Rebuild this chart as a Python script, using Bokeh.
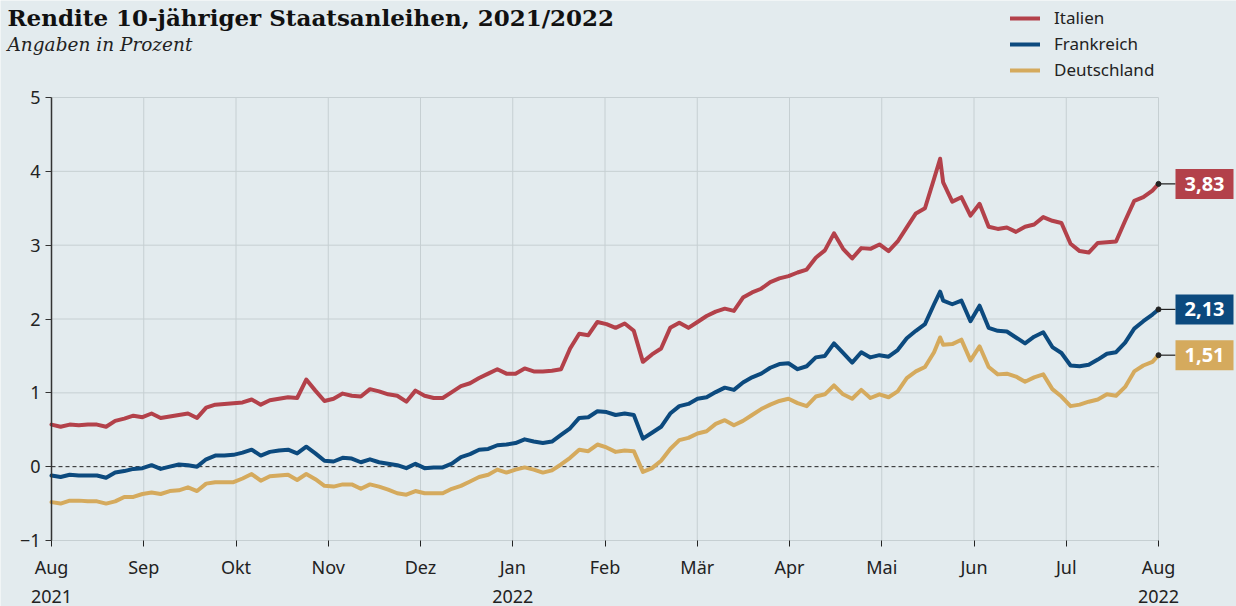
import pandas as pd
from bokeh.plotting import figure
from bokeh.models import Range1d, FixedTicker, LinearAxis, Legend, LegendItem
from bokeh.core.properties import value
from bokeh.embed import file_html
from bokeh.resources import INLINE

# ---------------- data ----------------
dates = [
    "2021-08-01", "2021-08-04", "2021-08-07", "2021-08-10", "2021-08-13", "2021-08-16", "2021-08-19", "2021-08-22", "2021-08-25", "2021-08-28", "2021-08-31",
    "2021-09-03", "2021-09-06", "2021-09-09", "2021-09-12", "2021-09-15", "2021-09-18", "2021-09-21", "2021-09-24", "2021-09-27", "2021-09-30",
    "2021-10-03", "2021-10-06", "2021-10-09", "2021-10-12", "2021-10-15", "2021-10-18", "2021-10-21", "2021-10-24", "2021-10-27", "2021-10-30",
    "2021-11-02", "2021-11-05", "2021-11-08", "2021-11-11", "2021-11-14", "2021-11-17", "2021-11-20", "2021-11-23", "2021-11-26", "2021-11-29",
    "2021-12-02", "2021-12-05", "2021-12-08", "2021-12-11", "2021-12-14", "2021-12-17", "2021-12-20", "2021-12-23", "2021-12-26", "2021-12-29",
    "2022-01-01", "2022-01-04", "2022-01-07", "2022-01-10", "2022-01-13", "2022-01-16", "2022-01-19", "2022-01-22", "2022-01-25", "2022-01-28", "2022-01-31",
    "2022-02-03", "2022-02-06", "2022-02-09", "2022-02-12", "2022-02-15", "2022-02-18", "2022-02-21", "2022-02-24", "2022-02-27",
    "2022-03-02", "2022-03-05", "2022-03-08", "2022-03-11", "2022-03-14", "2022-03-17", "2022-03-20", "2022-03-23", "2022-03-26", "2022-03-29",
    "2022-04-01", "2022-04-04", "2022-04-07", "2022-04-10", "2022-04-13", "2022-04-16", "2022-04-19", "2022-04-22", "2022-04-25", "2022-04-28",
    "2022-05-01", "2022-05-04", "2022-05-07", "2022-05-10", "2022-05-13", "2022-05-16", "2022-05-19", "2022-05-21", "2022-05-22", "2022-05-25", "2022-05-28", "2022-05-31",
    "2022-06-03", "2022-06-06", "2022-06-09", "2022-06-12", "2022-06-15", "2022-06-18", "2022-06-21", "2022-06-24", "2022-06-27", "2022-06-30",
    "2022-07-03", "2022-07-06", "2022-07-09", "2022-07-12", "2022-07-15", "2022-07-18", "2022-07-21", "2022-07-24", "2022-07-27", "2022-07-30", "2022-08-01",
]

italien = [
    0.57, 0.54, 0.57, 0.56, 0.57, 0.57, 0.54, 0.62, 0.65, 0.69, 0.67,
    0.72, 0.66, 0.68, 0.70, 0.72, 0.66, 0.80, 0.84, 0.85, 0.86,
    0.87, 0.91, 0.84, 0.90, 0.92, 0.94, 0.93, 1.18, 1.03, 0.89,
    0.92, 0.99, 0.96, 0.95, 1.05, 1.02, 0.98, 0.96, 0.88, 1.03,
    0.96, 0.93, 0.93, 1.01, 1.09, 1.13, 1.20, 1.26, 1.32, 1.26,
    1.26, 1.33, 1.29, 1.29, 1.30, 1.32, 1.60, 1.80, 1.78, 1.96, 1.93,
    1.88, 1.94, 1.84, 1.42, 1.52, 1.60, 1.88, 1.95, 1.88,
    1.96, 2.04, 2.10, 2.14, 2.11, 2.29, 2.36, 2.41, 2.50, 2.55,
    2.58, 2.63, 2.67, 2.83, 2.93, 3.16, 2.95, 2.82, 2.96, 2.95,
    3.01, 2.92, 3.05, 3.24, 3.43, 3.50, 3.90, 4.17, 3.85, 3.59, 3.65, 3.40,
    3.56, 3.25, 3.22, 3.24, 3.18, 3.25, 3.28, 3.38, 3.33, 3.30,
    3.02, 2.92, 2.90, 3.03, 3.04, 3.05, 3.33, 3.60, 3.65, 3.74,
    3.83,
]

frankreich = [
    -0.12, -0.14, -0.11, -0.12, -0.12, -0.12, -0.15, -0.08, -0.06, -0.03, -0.02,
    0.02, -0.03, 0.00, 0.03, 0.02, 0.00, 0.10, 0.15, 0.15, 0.16,
    0.19, 0.23, 0.15, 0.20, 0.22, 0.23, 0.18, 0.27, 0.18, 0.08,
    0.07, 0.12, 0.11, 0.06, 0.10, 0.06, 0.04, 0.02, -0.02, 0.04,
    -0.02, -0.01, -0.01, 0.04, 0.13, 0.17, 0.23, 0.24, 0.29, 0.30,
    0.32, 0.37, 0.34, 0.32, 0.34, 0.43, 0.52, 0.66, 0.67, 0.75, 0.74,
    0.70, 0.72, 0.70, 0.38, 0.46, 0.54, 0.72, 0.82, 0.85,
    0.92, 0.94, 1.01, 1.07, 1.04, 1.14, 1.21, 1.26, 1.34, 1.39,
    1.40, 1.32, 1.36, 1.48, 1.50, 1.67, 1.54, 1.41, 1.55, 1.48,
    1.51, 1.49, 1.58, 1.74, 1.84, 1.93, 2.20, 2.37, 2.25, 2.20, 2.25, 1.97,
    2.18, 1.88, 1.84, 1.83, 1.75, 1.67, 1.76, 1.82, 1.62, 1.54,
    1.37, 1.36, 1.38, 1.45, 1.53, 1.55, 1.68, 1.87, 1.97, 2.06,
    2.13,
]

deutschland = [
    -0.48, -0.50, -0.46, -0.46, -0.47, -0.47, -0.50, -0.47, -0.41, -0.41, -0.37,
    -0.35, -0.37, -0.33, -0.32, -0.28, -0.33, -0.23, -0.21, -0.21, -0.21,
    -0.16, -0.10, -0.19, -0.13, -0.12, -0.11, -0.18, -0.10, -0.17, -0.26,
    -0.27, -0.24, -0.24, -0.30, -0.24, -0.27, -0.31, -0.36, -0.38, -0.33,
    -0.36, -0.36, -0.36, -0.30, -0.26, -0.20, -0.14, -0.11, -0.04, -0.08,
    -0.04, -0.01, -0.04, -0.08, -0.05, 0.03, 0.12, 0.23, 0.21, 0.30, 0.26,
    0.20, 0.22, 0.21, -0.07, -0.02, 0.08, 0.24, 0.36, 0.39,
    0.45, 0.48, 0.58, 0.63, 0.56, 0.62, 0.70, 0.78, 0.84, 0.89,
    0.92, 0.86, 0.82, 0.95, 0.98, 1.10, 0.98, 0.92, 1.04, 0.93,
    0.98, 0.94, 1.02, 1.20, 1.29, 1.35, 1.55, 1.75, 1.65, 1.66, 1.72, 1.44,
    1.63, 1.35, 1.25, 1.26, 1.22, 1.15, 1.21, 1.25, 1.05, 0.95,
    0.82, 0.84, 0.88, 0.91, 0.98, 0.96, 1.08, 1.29, 1.37, 1.42,
    1.51,
]

series_names = ["Italien", "Frankreich", "Deutschland"]
month_labels = ["Aug", "Sep", "Okt", "Nov", "Dez", "Jan", "Feb", "Mär", "Apr", "Mai", "Jun", "Jul", "Aug"]
year_tick_index = [0, 5, 12]
year_labels = ["2021", "2022", "2022"]
y_ticks = [-1, 0, 1, 2, 3, 4, 5]

title_text = "Rendite 10-jähriger Staatsanleihen, 2021/2022"
subtitle_text = "Angaben in Prozent"

# ---------------- styling / layout ----------------
RED, BLUE, GOLD = "#b3414a", "#0c4a7e", "#d5aa5d"
colors = [RED, BLUE, GOLD]
BG = "#e3ebee"
GRID = "#c6cfd2"
INK = "#222222"
SANS = "Noto Sans"
SERIF = "DejaVu Serif"
LW = 4

W, H = 1236, 606
AXIS_X, PLOT_TOP, PLOT_BOTTOM = 51, 97, 540   # pixel bounds of the value area
DATA_RIGHT = 1158

origin = pd.Timestamp(dates[0])
days = [float((pd.Timestamp(d) - origin).days) for d in dates]
first_day, last_day = days[0], days[-1]
n_m = len(month_labels) - 1
month_pos = [first_day + i * (last_day - first_day) / n_m for i in range(n_m + 1)]
year_pos = [month_pos[i] for i in year_tick_index]

y0, y1 = y_ticks[0], y_ticks[-1]
px_per_day = (DATA_RIGHT - AXIS_X) / (last_day - first_day)
px_per_unit = (PLOT_BOTTOM - PLOT_TOP) / (y1 - y0)

def xpx(xp):
    return first_day + (xp - AXIS_X) / px_per_day

def ypx(yp):
    return y1 + (PLOT_TOP - yp) / px_per_unit

p = figure(width=W, height=H, x_range=Range1d(xpx(0), xpx(W)), y_range=Range1d(ypx(H), ypx(0)),
           output_backend="svg", toolbar_location=None, min_border=0)
p.background_fill_color = BG
p.border_fill_color = BG
p.outline_line_color = None
p.xgrid.visible = False
p.ygrid.visible = False

# grid (limited to the value area)
grid_vals = [v for v in y_ticks if v != 0]
p.segment(x0=[first_day] * len(grid_vals), y0=grid_vals, x1=[last_day] * len(grid_vals), y1=grid_vals,
          line_color=GRID, line_width=1)
p.segment(x0=month_pos, y0=[y0] * len(month_pos), x1=month_pos, y1=[y1] * len(month_pos),
          line_color=GRID, line_width=1)
p.segment(x0=[first_day], y0=[0], x1=[last_day], y1=[0], line_color=INK, line_width=1, line_dash="4 3")

# x axes, pinned at the bottom of the value area
xa = p.xaxis[0]
xa.fixed_location = y0
xa.ticker = FixedTicker(ticks=month_pos)
xa.major_label_overrides = {d: lab for d, lab in zip(month_pos, month_labels)}
xa.axis_line_color = None
xa.major_tick_out = 6
xa.major_tick_in = 0
xa.major_tick_line_color = INK
xa.minor_tick_line_color = None
xa.major_label_text_font = SANS
xa.major_label_text_font_size = "18px"
xa.major_label_text_color = INK
xa.major_label_standoff = 8

year_axis = LinearAxis(ticker=FixedTicker(ticks=year_pos), fixed_location=y0,
                       major_label_overrides={d: lab for d, lab in zip(year_pos, year_labels)},
                       axis_line_color=None, major_tick_line_color=None, minor_tick_line_color=None,
                       major_tick_out=0, major_tick_in=0,
                       major_label_text_font=SANS, major_label_text_font_size="18px",
                       major_label_text_color=INK, major_label_standoff=49)
p.add_layout(year_axis, "below")

# y axis, pinned at the first date
yax = p.yaxis[0]
yax.fixed_location = first_day
yax.bounds = (y0, y1)
yax.ticker = FixedTicker(ticks=y_ticks)
yax.axis_line_color = "#333333"
yax.axis_line_width = 1.5
yax.major_tick_out = 6
yax.major_tick_in = 0
yax.major_tick_line_color = "#333333"
yax.minor_tick_line_color = None
yax.major_label_text_font = SANS
yax.major_label_text_font_size = "18px"
yax.major_label_text_color = INK
yax.major_label_standoff = 5

# lines
renderers = []
for vals, col in zip([italien, frankreich, deutschland], colors):
    renderers.append(p.line(days, vals, line_color=col, line_width=LW, line_join="round", line_cap="round"))

# end markers + value boxes
ends = [italien[-1], frankreich[-1], deutschland[-1]]
conn_end = last_day + 17 / px_per_day
box_x = last_day + 46 / px_per_day
p.segment(x0=[last_day] * 3, y0=ends, x1=[conn_end] * 3, y1=ends, line_color=INK, line_width=1.2)
p.scatter([last_day] * 3, ends, size=5, color=INK)
p.rect(x=[box_x] * 3, y=ends, width=58, height=30, width_units="screen", height_units="screen",
       fill_color=colors, line_color=None)
end_texts = [f"{v:.2f}".replace(".", ",") for v in ends]
p.text(x=[box_x] * 3, y=ends, text=end_texts, text_align="center", text_baseline="middle",
       text_color="white", text_font=value(SANS), text_font_style="bold", text_font_size="20px")

# title / subtitle
p.text(x=[xpx(7)], y=[ypx(17)], text=[title_text], text_font=value(SERIF), text_font_style="bold",
       text_font_size="23px", text_color="#111111", text_baseline="alphabetic", text_align="left")
p.text(x=[xpx(7)], y=[ypx(44)], text=[subtitle_text], text_font=value(SERIF), text_font_style="italic",
       text_font_size="18.5px", text_color="#222222", text_baseline="alphabetic", text_align="left")

# legend
legend = Legend(items=[LegendItem(label=n, renderers=[r]) for n, r in zip(series_names, renderers)],
                location=(1010, H - 81), orientation="vertical",
                padding=0, margin=0, spacing=3, glyph_width=30, glyph_height=20, label_height=20,
                label_standoff=14, border_line_color=None, background_fill_alpha=0,
                label_text_font=SANS, label_text_font_size="17px", label_text_color=INK)
p.add_layout(legend)

open("out.html", "w").write(file_html(p, INLINE))
